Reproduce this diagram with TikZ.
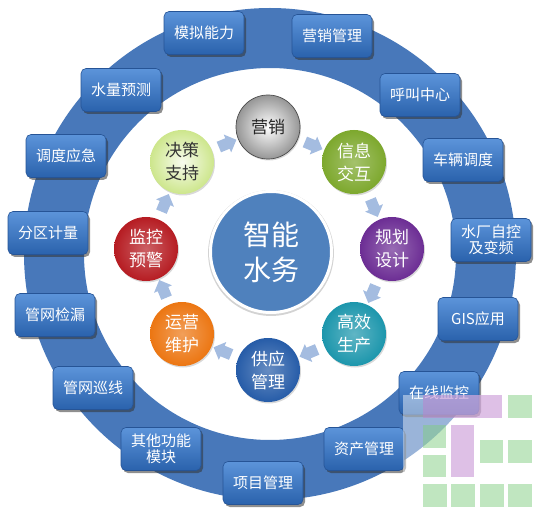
\documentclass[tikz,border=0pt]{standalone}
\usepackage{fontspec}
\setmainfont{Noto Sans CJK SC}
\usepackage{xcolor}
\usetikzlibrary{positioning, calc, shadows, shapes.arrows}

\definecolor{ringblue}{RGB}{72,120,186}
\definecolor{boxtop}{RGB}{92,148,218}
\definecolor{boxbot}{RGB}{42,98,172}
\definecolor{boxedge}{RGB}{38,84,150}
\definecolor{hubblue}{RGB}{79,129,189}
\definecolor{arrowblue}{RGB}{164,188,224}
\definecolor{cgray}{RGB}{150,150,150}
\definecolor{cgreen}{RGB}{125,168,45}
\definecolor{cpurple}{RGB}{108,45,148}
\definecolor{cteal}{RGB}{28,150,172}
\definecolor{cblue}{RGB}{38,92,168}
\definecolor{corange}{RGB}{236,118,18}
\definecolor{cred}{RGB}{182,28,34}
\definecolor{cpale}{RGB}{205,230,140}
\definecolor{wmgreen}{RGB}{130,205,130}
\definecolor{wmpurple}{RGB}{190,130,205}

\tikzset{
	modbox/.style={rectangle, rounded corners=5pt, minimum width=80pt, minimum height=43pt,
		inner sep=2pt, align=center, text=white, top color=boxtop, bottom color=boxbot,
		draw=boxedge, line width=0.6pt,
		drop shadow={shadow xshift=2pt, shadow yshift=-2.5pt, opacity=0.55, fill=black!80},
		font=\fontsize{15}{19}\selectfont},
	cyc/.style={circle, minimum size=64pt, inner sep=0pt, align=center, text=white,
		inner color=#1!70!white, outer color=#1,
		drop shadow={shadow xshift=1pt, shadow yshift=-1.5pt, opacity=0.3},
		font=\fontsize{17}{23}\selectfont},
	hub/.style={circle, minimum size=121pt, inner sep=0pt, align=center, text=white,
		fill=hubblue, draw=white, line width=3pt,
		drop shadow={shadow xshift=0pt, shadow yshift=-1pt, opacity=0.35, shadow scale=1.04},
		font=\fontsize{28}{35}\selectfont},
	flow/.style={single arrow, fill=arrowblue, minimum height=19pt, inner xsep=0pt,
		inner ysep=5.5pt, single arrow head extend=4pt}
}

\begin{document}
\begin{tikzpicture}[x=1pt, y=-1pt]
	
	%frame
	\useasboundingbox (0,0) rectangle (549,513);
	
	%ring
	\fill[ringblue, even odd rule] (270,254) circle (246pt) circle (186pt);
	
	%outer modules
	\node[modbox] (moni) at (204,33) {模拟能力};
	\node[modbox] (yingxiao) at (332,36) {营销管理};
	\node[modbox] (hujiao) at (420,95) {呼叫中心};
	\node[modbox] (cheliang) at (463,160) {车辆调度};
	\node[modbox] (shuichang) at (491,240) {水厂自控\\[-3pt]及变频};
	\node[modbox] (gis) at (478,319) {GIS应用};
	\node[modbox] (zaixian) at (439,393) {在线监控};
	\node[modbox] (zichan) at (364,449) {资产管理};
	\node[modbox] (xiangmu) at (263,483) {项目管理};
	\node[modbox] (qita) at (161,449) {其他功能\\[-3pt]模块};
	\node[modbox] (xunxian) at (93,388) {管网巡线};
	\node[modbox] (jianlou) at (55,315) {管网检漏};
	\node[modbox] (fenqu) at (48,233) {分区计量};
	\node[modbox] (diaodu) at (66,156) {调度应急};
	\node[modbox] (yuce) at (121,90) {水量预测};
	
	%center
	\node[hub] (hub) at (271,252) {智能\\水务};
	
	%inner cycle
	\node[cyc=cgray, draw=black!70, line width=0.7pt, text=black!85, inner color=white] (ying) at (268,127) {营销};
	\node[cyc=cgreen] (xin) at (354,162) {信息\\交互};
	\node[cyc=cpurple] (gui) at (392,249) {规划\\设计};
	\node[cyc=cteal] (gao) at (354,334) {高效\\生产};
	\node[cyc=cblue] (gong) at (268,370) {供应\\管理};
	\node[cyc=corange] (yun) at (182,334) {运营\\维护};
	\node[cyc=cred] (jian) at (146,249) {监控\\预警};
	\node[cyc=cpale, text=black!80, inner color=cpale!15!white] (jue) at (182,162) {决策\\支持};
	
	%arrows
	\foreach \p/\q/\r [count=\i] in {jue/ying/22.5, ying/xin/-22.5, xin/gui/-67.5, gui/gao/-112.5,
		gao/gong/-157.5, gong/yun/157.5, yun/jian/112.5, jian/jue/67.5}
		\node[flow, rotate=\r] (f\i) at ($(\p)!0.5!(\q)$) {};
	
	%logo
	\fill[white, opacity=.45] (403,395) rectangle (549,513);
	\begin{scope}[opacity=.5]
		\fill[wmpurple] (423,395) rectangle (502,418);
		\fill[wmpurple] (451,425) rectangle (474,477);
		\fill[wmgreen] (508,395) rectangle (532,418);
		\fill[wmgreen] (423,425) rectangle (446,448);
		\fill[wmgreen] (423,455) rectangle (446,477);
		\fill[wmgreen] (480,440) rectangle (503,463);
		\fill[wmgreen] (508,440) rectangle (532,463);
		\foreach \x in {423,451,480,508}
			\fill[wmgreen] (\x,484) rectangle ++(23.5,23);
	\end{scope}
	
\end{tikzpicture}
\end{document}
